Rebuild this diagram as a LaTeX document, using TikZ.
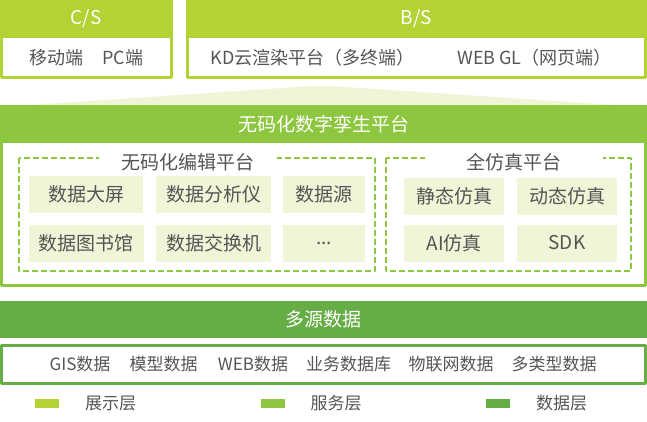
\documentclass[tikz,border=0pt]{standalone}
\usepackage{fontspec}
\setmainfont{Noto Sans CJK SC}
\definecolor{zhanshi}{HTML}{B3D233}
\definecolor{fuwu}{HTML}{8DC63F}
\definecolor{shuju}{HTML}{66AD45}
\definecolor{qian}{HTML}{EFF5D7}
\definecolor{wenzi}{HTML}{555555}
\begin{document}
\begin{tikzpicture}[x=1pt, y=-1pt, line join=round,
    head/.style={text=white, font=\fontsize{19}{22}\selectfont, inner sep=0pt},
    item/.style={text=wenzi, font=\fontsize{18}{22}\selectfont, inner sep=0pt},
    small/.style={text=wenzi, font=\fontsize{17}{20}\selectfont, inner sep=0pt},
    cell/.style={fill=qian, text=wenzi, font=\fontsize{19}{22}\selectfont, minimum height=37pt, inner sep=0pt},
    kuang/.style={draw=#1, line width=2.6pt},
    xuxian/.style={draw=fuwu, line width=2pt, dash pattern=on 6pt off 3pt},
    biaoti/.style={fill=white, text=wenzi, font=\fontsize{19}{22}\selectfont, minimum width=178pt, minimum height=16pt, inner sep=0pt}]
    \useasboundingbox (0,0) rectangle (647,422);
    \fill[qian] (30,105) -- (312,86) -- (330,86) -- (615,105) -- cycle;
    \fill[zhanshi] (0,0) rectangle (172.5,38);
    \draw[kuang=zhanshi] (1.3,37) rectangle (171.2,77.7);
    \fill[zhanshi] (186,0) rectangle (647,38);
    \draw[kuang=zhanshi] (187.3,37) rectangle (645.7,77.7);
    \node[head] (cs) at (86,19) {C/S};
    \node[head] (bs) at (416.5,19) {B/S};
    \node[item] (yidong) at (56,58) {移动端};
    \node[item] (pc) at (123,58) {PC端};
    \node[item] (kd) at (312.5,58) {KD云渲染平台（多终端）};
    \node[item] (webgl) at (534.5,58) {WEB GL（网页端）};
    \fill[fuwu] (0,105) rectangle (647,143);
    \draw[kuang=fuwu] (1.3,142) rectangle (645.7,285.7);
    \node[head] (pingtai) at (323.5,124.5) {无码化数字孪生平台};
    \draw[xuxian] (18.5,158) rectangle (374.5,271);
    \draw[xuxian] (386,158) rectangle (630.5,271);
    \node[biaoti] (bianji) at (188,162) {无码化编辑平台};
    \node[biaoti] (fangzhen) at (513.5,162) {全仿真平台};
    \foreach \n/\x/\y/\w/\t in {dp/86/194.4/114/数据大屏, fx/213.5/194.4/115/数据分析仪, ly/324/194.4/82/数据源,
        tsg/86/243.4/115/数据图书馆, jh/213.5/243.4/115/数据交换机,
        jt/454/196.5/100/静态仿真, dt/567/196.5/100/动态仿真, ai/454/243/100/AI仿真, sdk/567/243/100/SDK}
        \node[cell, minimum width=\w] (\n) at (\x,\y) {\t};
    \node[cell, minimum width=82] (gd) at (324,243.4) {...};
    \fill[shuju] (0,301) rectangle (647,338);
    \draw[kuang=shuju] (1.3,345.3) rectangle (645.7,383.3);
    \node[head] (duoyuan) at (323.5,319.5) {多源数据};
    \foreach \n/\x/\t in {gis/80/GIS数据, mx/163.5/模型数据, web/253/WEB数据, yw/348.5/业务数据库, wl/451/物联网数据, dlx/554/多类型数据}
        \node[small] (\n) at (\x,364.5) {\t};
    \foreach \n/\x/\c/\t in {zs/47/zhanshi/展示层, fw/272.5/fuwu/服务层, sj/498/shuju/数据层}{
        \fill[\c] (\x-12,399) rectangle (\x+12,408);
        \node[small] (\n) at (\x+63.5,403.5) {\t};
    }
\end{tikzpicture}
\end{document}
